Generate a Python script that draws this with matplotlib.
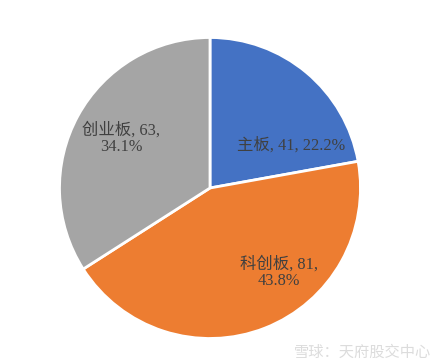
import matplotlib
matplotlib.use("Agg")
from matplotlib import pyplot as plt

plt.rcParams['font.family'] = ['Liberation Serif', 'Noto Sans CJK SC', 'DejaVu Sans']

# data
names = ['主板', '科创板', '创业板']
counts = [41, 81, 63]
pcts = ['22.2%', '43.8%', '34.1%']
colors = ['#4472C4', '#ED7D31', '#A5A5A5']

fig = plt.figure(figsize=(4.38, 3.63), dpi=100)
# pie centre at about (210, 188) px, radius ~152 px
ax = fig.add_axes([(210 - 152) / 438, (175 - 152) / 363, 304 / 438, 304 / 363])

wedges, _ = ax.pie(counts, colors=colors, startangle=90, counterclock=False,
                   radius=1.0, wedgeprops=dict(edgecolor='white', linewidth=2))
ax.set_xlim(-1.01, 1.01)
ax.set_ylim(-1.01, 1.01)
ax.set_aspect('equal')
ax.axis('off')

# label text and where it sits (in pie radius units)
label_txt = [
    '%s, %d, %s' % (names[0], counts[0], pcts[0]),
    '%s, %d,\n%s' % (names[1], counts[1], pcts[1]),
    '%s, %d,\n%s' % (names[2], counts[2], pcts[2]),
]
label_pos = [(0.54, 0.285), (0.46, -0.56), (-0.59, 0.33)]
for txt, (x, y) in zip(label_txt, label_pos):
    ax.text(x, y, txt, ha='center', va='center', fontsize=11.8,
            color='#404040', linespacing=1.05)

# watermark
fig.text(0.985, 0.03, '雪球：天府股交中心', ha='right', va='center',
         fontsize=11, color='#dcdcdc', family=['Noto Sans CJK SC', 'DejaVu Sans'])

fig.savefig('out.png', dpi=100, facecolor='white')
